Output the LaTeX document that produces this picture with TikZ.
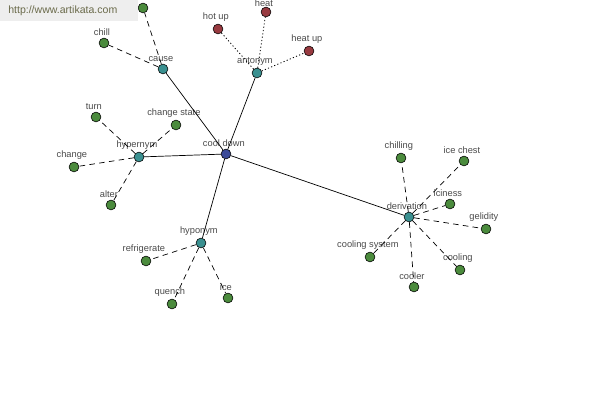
\documentclass[tikz,border=0pt]{standalone}
\usepackage{fontspec}
\setmainfont{Liberation Sans}
\definecolor{termblue}{HTML}{3B4A98}
\definecolor{reltea}{HTML}{3A9090}
\definecolor{leafgreen}{HTML}{4B8B3D}
\definecolor{leafred}{HTML}{983A40}
\definecolor{lblgray}{HTML}{4A4A4A}
\definecolor{markbg}{HTML}{EEEEEE}
\definecolor{markfg}{HTML}{6A6A4A}
\tikzset{
  dot/.style={circle,draw=black,line width=0.4pt,inner sep=0pt,minimum size=7pt},
  term/.style={dot,fill=termblue},
  rel/.style={dot,fill=reltea},
  syn/.style={dot,fill=leafgreen},
  ant/.style={dot,fill=leafred},
  lbl/.style={font=\fontsize{6.6}{7}\selectfont,text=lblgray,inner sep=0pt,label distance=1.5pt,xshift=-1.5pt},
  mainlink/.style={line width=0.5pt},
  synlink/.style={line width=0.5pt,dash pattern=on 4pt off 3pt},
  antlink/.style={line width=0.6pt,dash pattern=on 0.8pt off 1.6pt}
}
\begin{document}
\begin{tikzpicture}[x=0.025cm,y=-0.025cm]
\useasboundingbox (0,0) rectangle (600,400);
% relation nodes
\node[term,label={[lbl]above:cool down}] (cooldown) at (226,154) {};
\node[rel,label={[lbl]above:cause}] (cause) at (163,69) {};
\node[rel,label={[lbl]above:antonym}] (antonym) at (257,73) {};
\node[rel,label={[lbl]above:hypernym}] (hypernym) at (139,157) {};
\node[rel,label={[lbl]above:hyponym}] (hyponym) at (201,243) {};
\node[rel,label={[lbl]above:derivation}] (derivation) at (409,217) {};
% leaves
\node[syn] (causetop) at (143,8) {};
\node[syn,label={[lbl]above:chill}] (chill) at (104,43) {};
\node[ant,label={[lbl]above:hot up}] (hotup) at (218,29) {};
\node[ant,label={[lbl,label distance=0pt]above:heat}] (heat) at (266,12) {};
\node[ant,label={[lbl]above:heat up}] (heatup) at (309,51) {};
\node[syn,label={[lbl]above:turn}] (turn) at (96,117) {};
\node[syn,label={[lbl]above:change state}] (changestate) at (176,125) {};
\node[syn,label={[lbl]above:change}] (change) at (74,167) {};
\node[syn,label={[lbl]above:alter}] (alter) at (111,205) {};
\node[syn,label={[lbl]above:refrigerate}] (refrigerate) at (146,261) {};
\node[syn,label={[lbl]above:quench}] (quench) at (172,304) {};
\node[syn,label={[lbl]above:ice}] (ice) at (228,298) {};
\node[syn,label={[lbl]above:chilling}] (chilling) at (401,158) {};
\node[syn,label={[lbl]above:ice chest}] (icechest) at (464,161) {};
\node[syn,label={[lbl]above:iciness}] (iciness) at (450,204) {};
\node[syn,label={[lbl]above:gelidity}] (gelidity) at (486,229) {};
\node[syn,label={[lbl]above:cooling system}] (coolingsystem) at (370,257) {};
\node[syn,label={[lbl]above:cooling}] (cooling) at (460,270) {};
\node[syn,label={[lbl]above:cooler}] (cooler) at (414,287) {};
% links
\draw[mainlink] (cooldown) -- (cause);
\draw[mainlink] (cooldown) -- (antonym);
\draw[mainlink] (cooldown) -- (hypernym);
\draw[mainlink] (cooldown) -- (hyponym);
\draw[mainlink] (cooldown) -- (derivation);
\draw[synlink] (cause) -- (causetop);
\draw[synlink] (cause) -- (chill);
\draw[antlink] (antonym) -- (hotup);
\draw[antlink] (antonym) -- (heat);
\draw[antlink] (antonym) -- (heatup);
\draw[synlink] (hypernym) -- (turn);
\draw[synlink] (hypernym) -- (changestate);
\draw[synlink] (hypernym) -- (change);
\draw[synlink] (hypernym) -- (alter);
\draw[synlink] (hyponym) -- (refrigerate);
\draw[synlink] (hyponym) -- (quench);
\draw[synlink] (hyponym) -- (ice);
\draw[synlink] (derivation) -- (chilling);
\draw[synlink] (derivation) -- (icechest);
\draw[synlink] (derivation) -- (iciness);
\draw[synlink] (derivation) -- (gelidity);
\draw[synlink] (derivation) -- (coolingsystem);
\draw[synlink] (derivation) -- (cooling);
\draw[synlink] (derivation) -- (cooler);
% watermark
\fill[markbg] (0,0) rectangle (138,21);
\node[font=\fontsize{7.5}{9}\selectfont,text=markfg,anchor=west,inner sep=0pt] (mark) at (8,11) {http://www.artikata.com};
\end{tikzpicture}
\end{document}
